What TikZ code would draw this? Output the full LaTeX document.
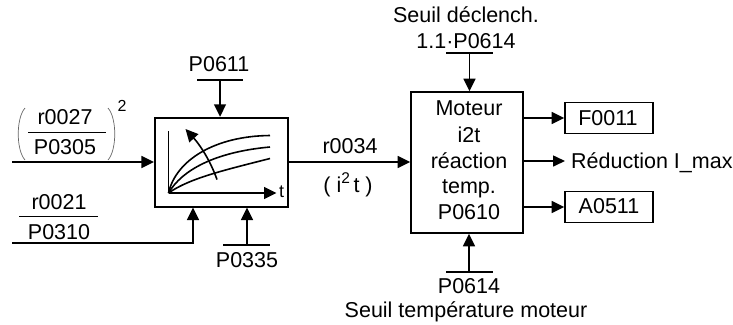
\documentclass[tikz,border=0pt]{standalone}
\usepackage{fontspec}
\setmainfont{Liberation Sans}
\usetikzlibrary{arrows.meta}
\tikzset{
  x=1bp,y=-1bp,
  line/.style={line width=1.6bp,line cap=butt},
  arr/.style={line,-{Triangle[length=12.5bp,width=12bp]}},
  sarr/.style={line,-{Triangle[length=12bp,width=11bp]}},
  blockbox/.style={draw,line width=1.8bp,inner sep=0pt,minimum width=0pt},
  lbl/.style={inner sep=0pt,font=\fontsize{21.5bp}{21.5bp}\selectfont,text depth=0pt,anchor=center},
  paren/.style={line width=0.7bp,draw=black!60},
}
\begin{document}
\begin{tikzpicture}
\useasboundingbox (0,0) rectangle (733,324);
% blocks
\node[blockbox,minimum width=133bp,minimum height=89bp] (filter) at (221.3,162.2) {};
\node[blockbox,minimum width=112bp,minimum height=141bp] (motor) at (467,162.5) {};
\node[blockbox,minimum width=88bp,minimum height=31bp] (fault) at (609,118) {};
\node[blockbox,minimum width=88bp,minimum height=31bp] (alarm) at (609,207) {};
\node[lbl] at (608,118) {F0011};
\node[lbl] at (609,205.5) {A0511};
% motor text
\node[lbl] (m1) at (469,108.5) {Moteur};
\node[lbl] (m2) at (469,135) {i2t};
\node[lbl] (m3) at (469,161) {réaction};
\node[lbl] (m4) at (469,186.5) {temp.};
\node[lbl] (m5) at (469,212) {P0610};
% top of filter
\node[lbl] (p611) at (219,64) {P0611};
\coordinate (b611a) at (197,80); \coordinate (b611b) at (243,80);
\coordinate (t611) at (220,80);
\draw[line] (b611a) -- (b611b);
\draw[arr] (t611) -- (t611 |- filter.north);
% r0027 / P0305
\node[lbl] (r27) at (65,117) {r0027};
\node[lbl] (p305) at (65,147) {P0305};
\coordinate (f1a) at (28,132); \coordinate (f1b) at (106,132);
\draw[line,line width=0.9bp] (f1a) -- (f1b);
\draw[paren] (25,108) .. controls (16,118) and (16,150) .. (25,160);
\draw[paren] (108,108) .. controls (117,118) and (117,150) .. (108,160);
\node[lbl,font=\fontsize{16bp}{16bp}\selectfont] (sq) at (122,106) {2};
\coordinate (in1) at (12,162);
\draw[arr] (in1) -- (in1 -| filter.west);
% r0021 / P0310
\node[lbl] (r21) at (59,202) {r0021};
\node[lbl] (p310) at (59,232) {P0310};
\coordinate (f2a) at (19,216); \coordinate (f2b) at (98,216);
\draw[line,line width=0.9bp] (f2a) -- (f2b);
\coordinate (in2) at (12,243); \coordinate (in2c) at (193,243);
\draw[arr] (in2) -- (in2c) -- (in2c |- filter.south);
% P0335
\node[lbl] (p335) at (247,259.5) {P0335};
\coordinate (b335a) at (223,245); \coordinate (b335b) at (270,245);
\coordinate (t335) at (247,245);
\draw[line] (b335a) -- (b335b);
\draw[arr] (t335) -- (t335 |- filter.south);
% graph inside filter
\coordinate (o) at (168.5,193);
\coordinate (ytop) at (168.5,131);
\coordinate (xend) at (276.5,193);
\draw[line] (ytop) -- (o);
\draw[arr] (o) -- (xend);
\node[lbl,font=\fontsize{18bp}{18bp}\selectfont] (tl) at (281.5,192) {t};
\draw[line] (o) .. controls (176,160) and (215,136) .. (270,135.5);
\draw[line] (o) .. controls (182,170) and (215,152) .. (270,147);
\draw[line] (o) .. controls (190,178) and (225,170) .. (270,158.5);
\draw[arr] (217,179.5) .. controls (210,160) and (200,145) .. (185.5,129);
% connection filter -> motor
\draw[arr] (filter.east |- in1) -- (motor.west |- in1);
\node[lbl] (r34) at (350,146) {r0034};
\node[lbl] (i2t) at (348,183) {( i\raisebox{0.42em}{\fontsize{15.5bp}{15.5bp}\selectfont 2}\,t )};
% top of motor
\node[lbl] (seuil1) at (466,15) {Seuil déclench.};
\node[lbl] (seuil2) at (466,41) {1.1·P0614};
\coordinate (b1a) at (446,53); \coordinate (b1b) at (493,53);
\coordinate (t1) at (469.5,53);
\draw[line] (b1a) -- (b1b);
\draw[arr] (t1) -- (t1 |- motor.north);
% bottom of motor
\coordinate (b2a) at (446,272); \coordinate (b2b) at (493,272);
\coordinate (t2) at (469,272);
\draw[line] (b2a) -- (b2b);
\draw[arr] (t2) -- (t2 |- motor.south);
\node[lbl] (p614) at (469,286) {P0614};
\node[lbl] (seuil3) at (466,310) {Seuil température moteur};
% outputs
\draw[arr] (motor.east |- fault) -- (fault.west);
\coordinate (redtip) at (565,161);
\draw[sarr] (motor.east |- redtip) -- (redtip);
\node[lbl,anchor=west] (red) at (571,161) {Réduction I\_max};
\draw[arr] (motor.east |- alarm) -- (alarm.west);
\end{tikzpicture}
\end{document}
